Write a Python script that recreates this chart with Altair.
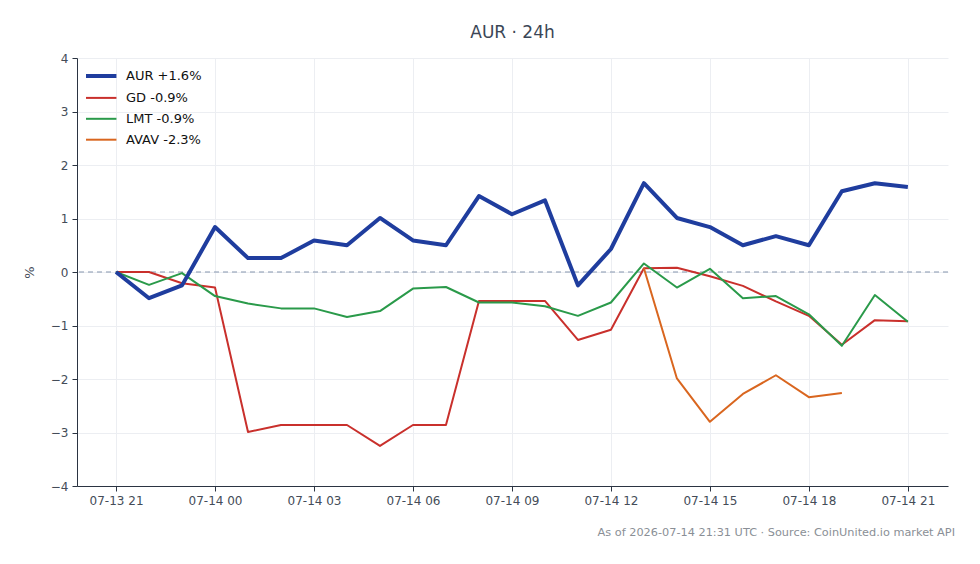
import altair as alt
import pandas as pd

hours = [f"2026-07-13T{h:02d}:00:00Z" for h in (21, 22, 23)] + \
        [f"2026-07-14T{h:02d}:00:00Z" for h in range(0, 22)]

aur = [0.0, -0.49, -0.25, 0.84, 0.26, 0.26, 0.59, 0.50, 1.01, 0.59, 0.50, 1.42, 1.08,
       1.34, -0.25, 0.43, 1.66, 1.01, 0.84, 0.50, 0.67, 0.50, 1.51, 1.66, 1.59]
gd = [0.0, 0.0, -0.21, -0.29, -2.99, -2.86, -2.86, -2.86, -3.25, -2.86, -2.86, -0.54, -0.54,
      -0.54, -1.27, -1.08, 0.07, 0.08, -0.08, -0.26, -0.55, -0.82, -1.36, -0.90, -0.92]
lmt = [0.0, -0.24, -0.02, -0.45, -0.59, -0.68, -0.68, -0.84, -0.73, -0.31, -0.28, -0.57, -0.57,
       -0.64, -0.82, -0.57, 0.16, -0.29, 0.06, -0.49, -0.45, -0.79, -1.38, -0.43, -0.93]
avav = [None] * 16 + [0.07, -1.99, -2.80, -2.28, -1.93, -2.34, -2.26]

tickers = ["AUR", "GD", "LMT", "AVAV"]
changes = ["+1.6%", "-0.9%", "-0.9%", "-2.3%"]
colors = ["#1f3d9e", "#c9302c", "#2a9a4a", "#d9661f"]
widths = [4, 2, 2, 2]
labels = [f"{t} {c}" for t, c in zip(tickers, changes)]

rows = []
for lab, vals in zip(labels, [aur, gd, lmt, avav]):
    for t, v in zip(hours, vals):
        if v is not None:
            rows.append({"time": t, "series": lab, "pct": v})
df = pd.DataFrame(rows)

title_text = "AUR · 24h"
footer_text = "As of 2026-07-14 21:31 UTC · Source: CoinUnited.io market API"
tick_hours = [(13, 21), (14, 0), (14, 3), (14, 6), (14, 9), (14, 12), (14, 15), (14, 18), (14, 21)]

xscale = alt.Scale(
    type="utc",
    domain=[alt.DateTime(year=2026, month=7, date=13, hours=19, minutes=49, utc=True),
            alt.DateTime(year=2026, month=7, date=14, hours=22, minutes=13, utc=True)],
)
xaxis = alt.Axis(
    values=[alt.DateTime(year=2026, month=7, date=d, hours=h, utc=True) for d, h in tick_hours],
    format="%m-%d %H", title=None, grid=True, gridColor="#eceef2",
    domainColor="#2b3442", tickColor="#2b3442", labelColor="#444c58",
    labelFontSize=12, tickSize=5, labelPadding=4,
)
yscale = alt.Scale(domain=[-4, 4], nice=False)
yaxis = alt.Axis(
    values=[-4, -3, -2, -1, 0, 1, 2, 3, 4], title="%", titleFontWeight="normal",
    titleFontSize=13, titleColor="#444c58", titlePadding=14, grid=True, gridColor="#eceef2",
    domainColor="#2b3442", tickColor="#2b3442", labelColor="#444c58",
    labelFontSize=12, tickSize=5, labelPadding=4,
)

legend = alt.Legend(
    title=None, orient="none", legendX=11.7, legendY=5.5, symbolType="M-1.45,0H1.45",
    symbolSize=441, labelFontSize=13, labelColor="#111111", rowPadding=1.9,
    labelOffset=12.3, padding=0,
)
color = alt.Color("series:N", scale=alt.Scale(domain=labels, range=colors),
                  sort=labels, legend=legend)
swidth = alt.StrokeWidth("series:N",
                         scale=alt.Scale(type="ordinal", domain=labels, range=widths),
                         sort=labels, legend=legend)

base = alt.Chart(df)

others = base.transform_filter(alt.datum.series != labels[0]).mark_line(
    strokeJoin="round").encode(
    x=alt.X("time:T", scale=xscale, axis=xaxis),
    y=alt.Y("pct:Q", scale=yscale, axis=yaxis),
    color=color, strokeWidth=swidth, detail="series:N",
)
main = base.transform_filter(alt.datum.series == labels[0]).mark_line(
    strokeJoin="round").encode(
    x=alt.X("time:T", scale=xscale, axis=xaxis),
    y=alt.Y("pct:Q", scale=yscale, axis=yaxis),
    color=color, strokeWidth=swidth,
)

zero = alt.Chart(pd.DataFrame({"y": [0]})).mark_rule(
    color="#8595ad", strokeDash=[5, 4], strokeWidth=1).encode(y=alt.Y("y:Q", scale=yscale))

footer = alt.Chart(pd.DataFrame({"t": [footer_text]})).mark_text(
    align="right", baseline="middle", fontSize=11.3, color="#8a8f96", font="DejaVu Sans").encode(
    text="t:N", x=alt.value(878), y=alt.value(475))

chart = alt.layer(zero, others, main, footer).properties(
    width=871, height=428,
    title=alt.TitleParams(title_text, fontSize=17, fontWeight="normal", color="#3b4656",
                          offset=10, font="DejaVu Sans"),
    padding={"left": 77, "top": 58, "right": 32, "bottom": 78},
    autosize=alt.AutoSizeParams(type="none"),
).configure(font="DejaVu Sans").configure_view(stroke=None)

chart.save("out.html", embed_options={"renderer": "svg", "actions": False})
